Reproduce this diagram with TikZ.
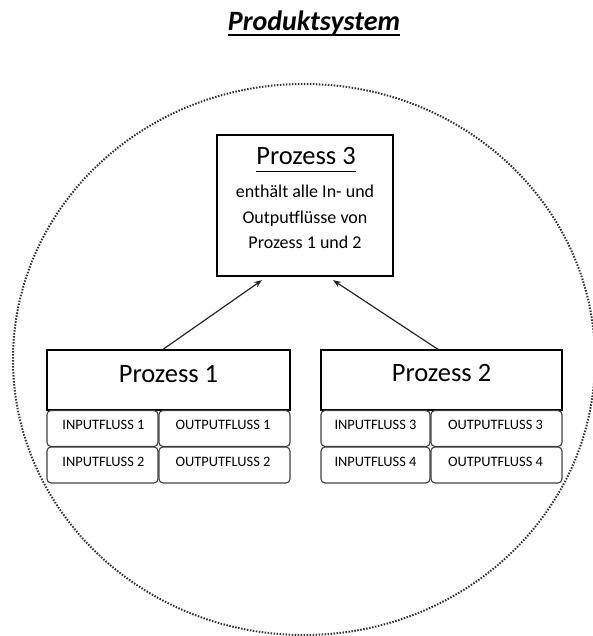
\documentclass[tikz,border=0pt]{standalone}
\usepackage{fontspec}
\setmainfont{Carlito}
\usetikzlibrary{calc,arrows.meta}
\tikzset{
  px/.style={x=1pt,y=-1pt},
  procbox/.style={draw=black,line width=1.3pt,minimum width=#1,inner sep=0pt},
  flowbox/.style={draw=black!75,line width=1.1pt,rounded corners=4pt,inner sep=0pt,
    minimum height=36pt},
  flowtext/.style={anchor=base,inner sep=0pt,font=\fontsize{14.4}{16}\selectfont},
  proctext/.style={anchor=base,inner sep=0pt,font=\fontsize{26.5}{30}\selectfont},
  bodytext/.style={anchor=base,inner sep=0pt,font=\fontsize{18}{22}\selectfont},
  arr/.style={-{Stealth[length=8pt,width=6pt]},line width=1.2pt,draw=black!85},
  boundary/.style={line width=2pt,dash pattern=on 1.5pt off 1.5pt,draw=black!80},
}
\begin{document}
\begin{tikzpicture}[px]
\useasboundingbox (0,0) rectangle (593,636);

% system boundary
\draw[boundary] (304,359.5) ellipse [x radius=291, y radius=275.5];

% title
\node[anchor=base,inner sep=0pt,font=\fontsize{28}{30}\selectfont\bfseries\itshape]
  (title) at (314,31) {Produktsystem};
\draw[line width=2.5pt] ($(title.base west)+(0,3.8)$) -- ($(title.base east)+(0,3.8)$);

% Prozess 3
\node[procbox=176pt,minimum height=141pt] (p3) at (305,205.5) {};
\node[proctext] (p3t) at (306,165) {Prozess 3};
\draw[line width=1.1pt] ($(p3t.base west)+(0,6.5)$) -- ($(p3t.base east)+(0,6.5)$);
\node[bodytext] (p3a) at (305,198) {enthält alle In- und};
\node[bodytext] (p3b) at (305,223) {Outputflüsse von};
\node[bodytext] (p3c) at (305,248) {Prozess 1 und 2};

% Prozess 1
\node[procbox=243pt,minimum height=60pt] (p1) at (168.5,380) {};
\node[proctext] (p1t) at (168.5,382) {Prozess 1};
\node[flowbox,minimum width=111pt] (i1) at (102.5,428.5) {};
\node[flowbox,minimum width=131pt] (o1) at (224.5,428.5) {};
\node[flowbox,minimum width=111pt] (i2) at (102.5,465) {};
\node[flowbox,minimum width=131pt] (o2) at (224.5,465) {};
\node[flowtext] at (103.5,429) {INPUTFLUSS 1};
\node[flowtext] at (223,429) {OUTPUTFLUSS 1};
\node[flowtext] at (103.5,466) {INPUTFLUSS 2};
\node[flowtext] at (223,466) {OUTPUTFLUSS 2};

% Prozess 2
\node[procbox=241pt,minimum height=60pt] (p2) at (441.5,380) {};
\node[proctext] (p2t) at (441.5,381) {Prozess 2};
\node[flowbox,minimum width=109pt] (i3) at (375.5,428.5) {};
\node[flowbox,minimum width=131pt] (o3) at (496.5,428.5) {};
\node[flowbox,minimum width=109pt] (i4) at (375.5,465) {};
\node[flowbox,minimum width=131pt] (o4) at (496.5,465) {};
\node[flowtext] at (375.5,429) {INPUTFLUSS 3};
\node[flowtext] at (495.5,429) {OUTPUTFLUSS 3};
\node[flowtext] at (375.5,466) {INPUTFLUSS 4};
\node[flowtext] at (495.5,466) {OUTPUTFLUSS 4};

% connectors
\draw[arr] ($(p1.north)+(-5.5,0)$) -- ($(p3.south)+(-43,3.5)$);
\draw[arr] ($(p2.north)+(-3.5,0)$) -- ($(p3.south)+(28,3.5)$);
\end{tikzpicture}
\end{document}
